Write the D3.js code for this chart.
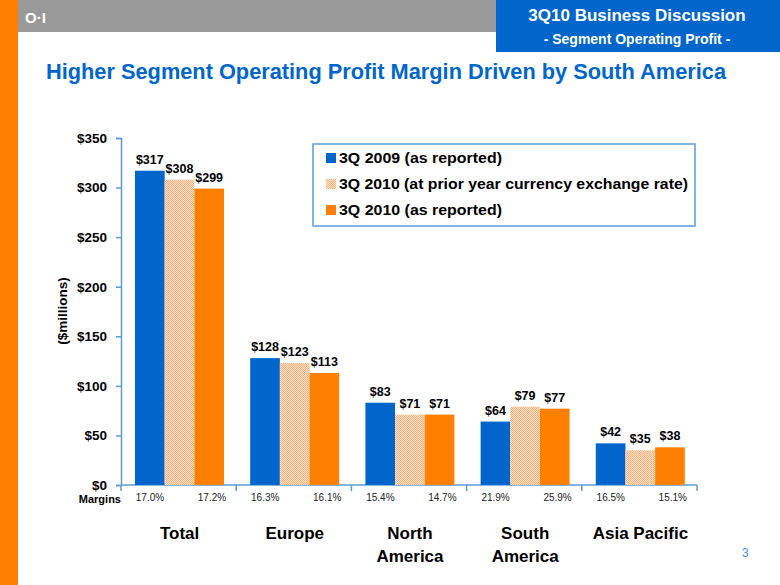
<!DOCTYPE html>
<html><head><meta charset="utf-8">
<script src="https://cdn.jsdelivr.net/npm/d3@7"></script>
<style>body{margin:0;background:#fff}svg{display:block;font-family:"Liberation Sans",Arial,sans-serif}</style>
</head><body><svg id="c" width="780" height="585"></svg>
<script>
const categories = [["Total"],["Europe"],["North","America"],["South","America"],["Asia Pacific"]];
const seriesNames = ["3Q 2009 (as reported)","3Q 2010 (at prior year currency exchange rate)","3Q 2010 (as reported)"];
const s2009 = [317,128,83,64,42];
const s2010fx = [308,123,71,79,35];
const s2010 = [299,113,71,77,38];
const margins2009 = ["17.0%","16.3%","15.4%","21.9%","16.5%"];
const margins2010 = ["17.2%","16.1%","14.7%","25.9%","15.1%"];
const yTicks = [0,50,100,150,200,250,300,350];

const svg = d3.select("#c");
const BLUE="#0066cc", ORANGE="#ff7f00", AXIS="#5b9bd8";

// pattern for hatched series
const defs = svg.append("defs");
const pat = defs.append("pattern").attr("id","hatch").attr("patternUnits","userSpaceOnUse").attr("width",2).attr("height",2);
pat.append("rect").attr("width",2).attr("height",2).attr("fill","#ffe2cc");
pat.append("rect").attr("width",1).attr("height",1).attr("fill","#ffb07a");
pat.append("rect").attr("x",1).attr("y",1).attr("width",1).attr("height",1).attr("fill","#ffb07a");

// frame decorations
svg.append("rect").attr("x",0).attr("y",0).attr("width",18).attr("height",585).attr("fill",ORANGE);
svg.append("rect").attr("x",18).attr("y",0).attr("width",762).attr("height",32).attr("fill","#999999");
svg.append("rect").attr("x",496).attr("y",0).attr("width",284).attr("height",52).attr("fill",BLUE);
svg.append("text").attr("x",25).attr("y",23).attr("fill","#fff").attr("font-weight","bold").attr("font-size",15).text("O·I");
svg.append("text").attr("x",637).attr("y",21).attr("text-anchor","middle").attr("fill","#fff").attr("font-weight","bold").attr("font-size",17).text("3Q10 Business Discussion");
svg.append("text").attr("x",637).attr("y",44).attr("text-anchor","middle").attr("fill","#fff").attr("font-weight","bold").attr("font-size",14).text("- Segment Operating Profit -");
svg.append("text").attr("x",46).attr("y",79).attr("fill",BLUE).attr("font-weight","bold").attr("font-size",22)
  .attr("textLength",680).attr("lengthAdjust","spacingAndGlyphs")
  .text("Higher Segment Operating Profit Margin Driven by South America");
svg.append("text").attr("x",742).attr("y",557).attr("fill","#3a8ee6").attr("font-size",12).text("3");

// scales
const x0 = d3.scaleBand().domain(d3.range(categories.length)).range([121,697]).paddingInner(0).paddingOuter(0);
const y = d3.scaleLinear().domain([0,350]).range([485,138]);
const x1 = d3.scaleBand().domain([0,1,2]).range([14,103]).padding(0);

const g = svg.append("g");
// y axis
const yAxis = d3.axisLeft(y).tickValues(yTicks).tickSize(5).tickFormat(d=>"$"+d);
const ya = g.append("g").attr("transform","translate(121,0)").call(yAxis);
ya.select(".domain").attr("stroke",AXIS).attr("stroke-width",1.5);
ya.selectAll(".tick line").attr("stroke",AXIS).attr("stroke-width",1.5);
ya.selectAll(".tick text").attr("font-size",13.5).attr("font-weight","bold").attr("fill","#000").attr("font-family","Liberation Sans, Arial, sans-serif").attr("x",-14);

// x axis line + category dividers
const xa = g.append("g");
xa.append("line").attr("x1",121).attr("x2",697).attr("y1",485).attr("y2",485).attr("stroke",AXIS).attr("stroke-width",1.5);
xa.selectAll("line.div").data(d3.range(categories.length+1)).join("line").attr("class","div")
  .attr("x1",d=>d<categories.length?x0(d):x0.range()[1]).attr("x2",d=>d<categories.length?x0(d):x0.range()[1])
  .attr("y1",485).attr("y2",491).attr("stroke",AXIS).attr("stroke-width",1.5);

const series = [s2009,s2010fx,s2010];
const fills = [BLUE,"url(#hatch)",ORANGE];
series.forEach((s,si)=>{
  g.selectAll("rect.s"+si).data(s).join("rect").attr("class","s"+si)
    .attr("x",(d,i)=>x0(i)+x1(si)).attr("width",x1.bandwidth())
    .attr("y",d=>y(d)).attr("height",d=>y(0)-y(d)).attr("fill",fills[si]);
  g.selectAll("text.v"+si).data(s).join("text").attr("class","v"+si)
    .attr("x",(d,i)=>x0(i)+x1(si)+x1.bandwidth()/2).attr("y",d=>y(d)-7)
    .attr("text-anchor","middle").attr("font-size",12.5).attr("font-weight","bold").text(d=>"$"+d);
});

// margins
g.append("text").attr("x",121).attr("y",503).attr("text-anchor","end").attr("font-size",11).attr("font-weight","bold").text("Margins");
g.selectAll("text.m1").data(margins2009).join("text").attr("class","m1")
  .attr("x",(d,i)=>x0(i)+29).attr("y",501).attr("text-anchor","middle").attr("font-size",10).attr("fill","#222").text(d=>d);
g.selectAll("text.m2").data(margins2010).join("text").attr("class","m2")
  .attr("x",(d,i)=>x0(i)+91).attr("y",501).attr("text-anchor","middle").attr("font-size",10).attr("fill","#222").text(d=>d);

// category labels
const cl = g.selectAll("text.cat").data(categories).join("text").attr("class","cat")
  .attr("x",(d,i)=>x0(i)+x0.bandwidth()/2+1).attr("y",539).attr("text-anchor","middle")
  .attr("font-size",17).attr("font-weight","bold");
cl.selectAll("tspan").data(d=>d).join("tspan").attr("x",function(){return this.parentNode.getAttribute("x");})
  .attr("dy",(d,i)=>i?23:0).text(d=>d);

// y label
g.append("text").attr("transform","translate(67,311) rotate(-90)").attr("text-anchor","middle")
  .attr("font-size",13.5).attr("font-weight","bold").text("($millions)");

// legend
const lg = g.append("g");
lg.append("rect").attr("x",313).attr("y",144).attr("width",382).attr("height",82).attr("fill","#fff").attr("stroke",AXIS).attr("stroke-width",1.5);
const lw=[163,349,163];
seriesNames.forEach((n,i)=>{
  const yy = 158 + i*26;
  lg.append("rect").attr("x",326).attr("y",yy-5).attr("width",10).attr("height",10).attr("fill",fills[i]);
  lg.append("text").attr("x",339).attr("y",yy+5).attr("font-size",15).attr("font-weight","bold")
    .attr("textLength",lw[i]).attr("lengthAdjust","spacingAndGlyphs").text(n);
});
</script></body></html>
